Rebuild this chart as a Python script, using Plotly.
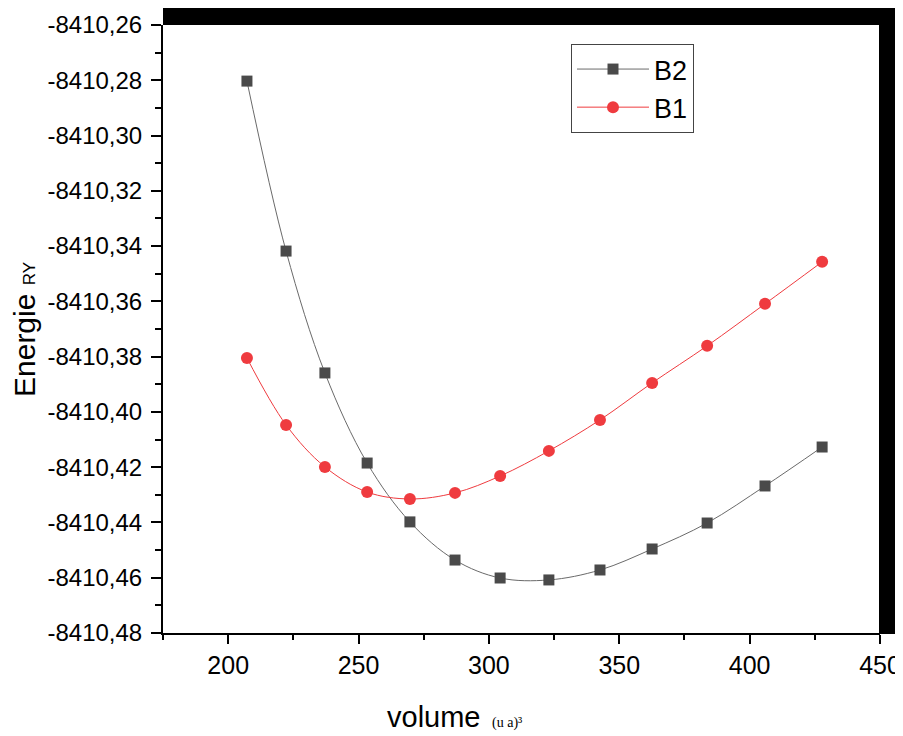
import plotly.graph_objects as go

volume = [207.2, 222.2, 237.1, 253.3, 269.7, 287.0, 304.3, 323.0, 342.6, 362.6, 383.7, 405.9, 427.8]
energy_b2 = [-8410.2803, -8410.3418, -8410.3859, -8410.4185, -8410.4398, -8410.4536, -8410.4601,
             -8410.4608, -8410.4572, -8410.4496, -8410.4402, -8410.4268, -8410.4127]
energy_b1 = [-8410.3805, -8410.4047, -8410.4199, -8410.4290, -8410.4315, -8410.4293, -8410.4232,
             -8410.4141, -8410.4029, -8410.3895, -8410.3761, -8410.3609, -8410.3457]

y_tickvals = [-8410.26, -8410.28, -8410.30, -8410.32, -8410.34, -8410.36, -8410.38,
              -8410.40, -8410.42, -8410.44, -8410.46, -8410.48]
y_ticktext = ["-8410,26", "-8410,28", "-8410,30", "-8410,32", "-8410,34", "-8410,36", "-8410,38",
              "-8410,40", "-8410,42", "-8410,44", "-8410,46", "-8410,48"]
x_tickvals = [200, 250, 300, 350, 400, 450]

FONT = "Liberation Sans, Arial, sans-serif"

# page body has an 8px margin: figure sits at (8, 8) in the window
OFF = 8
W, H = 903 - OFF, 736 - OFF
PL, PR, PT, PB = 163, 880, 25, 633  # plot area in window pixels
pw, ph = PR - PL, PB - PT

fig = go.Figure()
fig.add_trace(go.Scatter(
    x=volume, y=energy_b2, name="B2", mode="lines+markers",
    line=dict(color="#6a6a6a", width=1, shape="spline"),
    marker=dict(symbol="square", size=11, color="#4a4a4a", line=dict(color="#4a4a4a", width=0)),
))
fig.add_trace(go.Scatter(
    x=volume, y=energy_b1, name="B1", mode="lines+markers",
    line=dict(color="#ef3b3f", width=1, shape="spline"),
    marker=dict(symbol="circle", size=12, color="#ef3b3f", line=dict(color="#ef3b3f", width=0)),
))

fig.update_layout(
    width=W, height=H,
    margin=dict(l=PL - OFF, r=W - (PR - OFF), t=PT - OFF, b=H - (PB - OFF), autoexpand=False),
    paper_bgcolor="white", plot_bgcolor="white",
    font=dict(family=FONT, color="black"),
    showlegend=True,
    legend=dict(
        x=(571 - PL) / pw, y=(PB - 44) / ph, xanchor="left", yanchor="top",
        bordercolor="#444444", borderwidth=1, bgcolor="white",
        font=dict(size=27, family=FONT),
        itemwidth=72, tracegroupgap=0,
    ),
    xaxis=dict(
        range=[175, 450], tickvals=x_tickvals, ticks="outside", ticklen=9, tickwidth=1.5,
        tickcolor="black", showline=True, linecolor="black", linewidth=2,
        showgrid=False, zeroline=False,
        tickfont=dict(size=25, family=FONT),
        minor=dict(tickvals=[175, 225, 275, 325, 375, 425], ticks="outside", ticklen=5,
                   tickwidth=1.5, tickcolor="black", showgrid=False),
    ),
    yaxis=dict(
        range=[-8410.48, -8410.26], tickvals=y_tickvals, ticktext=y_ticktext,
        ticks="outside", ticklen=10, tickwidth=1.5, tickcolor="black",
        showline=True, linecolor="black", linewidth=2,
        showgrid=False, zeroline=False, ticklabelstandoff=4,
        tickfont=dict(size=24, family=FONT),
        minor=dict(tickvals=[-8410.27, -8410.29, -8410.31, -8410.33, -8410.35, -8410.37,
                             -8410.39, -8410.41, -8410.43, -8410.45, -8410.47],
                   ticks="outside", ticklen=6, tickwidth=1.5, tickcolor="black", showgrid=False),
    ),
)

# thick top and right frame bars
fig.add_shape(type="rect", xref="paper", yref="paper",
              x0=0, x1=(896 - PL) / pw, y0=1, y1=1 + (PT - 8) / ph,
              fillcolor="black", line=dict(width=0), layer="above")
fig.add_shape(type="rect", xref="paper", yref="paper",
              x0=(879 - PL) / pw, x1=(896 - PL) / pw, y0=-1 / ph, y1=1 + (PT - 8) / ph,
              fillcolor="black", line=dict(width=0), layer="above")

# axis titles
fig.add_annotation(
    xref="paper", yref="paper", x=(385 - PL) / pw, y=-(717 - PB) / ph,
    xanchor="left", yanchor="middle", showarrow=False,
    text="volume <span style='font-family:Liberation Serif, Times New Roman, serif;font-size:14px'> (u a)³</span>",
    font=dict(size=29, family=FONT),
)
fig.add_annotation(
    xref="paper", yref="paper", x=-(PL - 24) / pw, y=(PB - 330) / ph,
    xanchor="center", yanchor="middle", showarrow=False, textangle=-90,
    text="Energie <span style='font-size:17px'>RY</span>",
    font=dict(size=30, family=FONT),
)

fig.write_html("out.html")
